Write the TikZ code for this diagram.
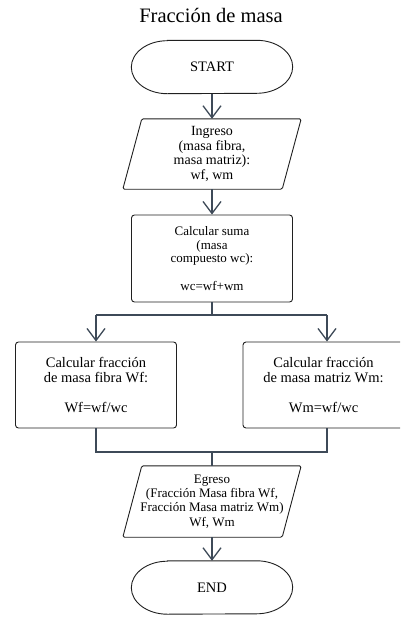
\documentclass[tikz,border=0pt]{standalone}
\usepackage{fontspec}
\setmainfont{Liberation Serif}
\usetikzlibrary{arrows.meta}
\definecolor{wire}{RGB}{62,74,88}
\definecolor{edge}{RGB}{32,32,32}
\tikzset{
  every node/.style={inner sep=0pt, text=black},
  outline/.style={draw=edge, line width=0.9pt},
  procbox/.style={outline, rounded corners=3pt, minimum width=161pt, minimum height=86pt, align=center},
  ioshape/.style={minimum width=159pt, minimum height=70pt, align=center},
  termshape/.style={minimum width=161pt, minimum height=53pt},
  wirestyle/.style={draw=wire, line width=1.3pt},
  flow/.style={wirestyle, -{Straight Barb[length=12pt,width=18pt,line width=1.3pt]}},
}
% draws a terminator outline (flat top and bottom, elliptic ends) around a node
\newcommand{\terminatorline}[1]{%
  \draw[outline] ([xshift=36pt]#1.north west) -- ([xshift=-36pt]#1.north east)
    arc[start angle=90,end angle=-90,x radius=36pt,y radius=26.5pt]
    -- ([xshift=36pt]#1.south west)
    arc[start angle=270,end angle=90,x radius=36pt,y radius=26.5pt] -- cycle;}
% draws a slanted input/output outline around a node
\newcommand{\ioline}[1]{%
  \draw[outline, rounded corners=1.5pt] ([xshift=9.5pt]#1.north west) -- ([xshift=9.5pt]#1.north east)
    -- ([xshift=-9.5pt]#1.south east) -- ([xshift=-9.5pt]#1.south west) -- cycle;}
\begin{document}
\begin{tikzpicture}[x=1pt,y=-1pt]
  \useasboundingbox (0,0) rectangle (400,619);
  \clip (0,0) rectangle (400,619);
  \fill[white] (0,0) rectangle (400,619);

  % title
  \node[anchor=base, font=\fontsize{20.5}{24}\selectfont] (title) at (211,22) {Fracción de masa};

  % start
  \node[termshape, font=\fontsize{14.5}{16}\selectfont] (start) at (212,67) {START};
  \terminatorline{start}

  % input
  \node[ioshape, font=\fontsize{14}{14.5}\selectfont] (ingreso) at (212,154)
    {Ingreso\\(masa fibra,\\masa matriz):\\wf, wm};
  \ioline{ingreso}

  % sum
  \node[procbox, minimum height=87pt, font=\fontsize{13}{13.7}\selectfont] (suma) at (212,258.5)
    {Calcular suma\\(masa\\compuesto wc):\\[13.7pt]wc=wf+wm};

  % fractions
  \node[procbox, font=\fontsize{14.5}{15}\selectfont] (fibra) at (96,385)
    {Calcular fracción\\de masa fibra Wf:\\[15pt]Wf=wf/wc};
  \node[procbox, font=\fontsize{14.5}{15}\selectfont] (matriz) at (323.5,385)
    {Calcular fracción\\de masa matriz Wm:\\[15pt]Wm=wf/wc};

  % output
  \node[ioshape, minimum height=71pt, font=\fontsize{13}{14.3}\selectfont] (egreso) at (212,501.5)
    {Egreso\\(Fracción Masa fibra Wf,\\Fracción Masa matriz Wm)\\Wf, Wm};
  \ioline{egreso}

  % end
  \node[termshape, font=\fontsize{14.5}{16}\selectfont] (end) at (212,587.5) {END};
  \terminatorline{end}

  % branch and join points
  \coordinate (msplit) at (212,315);
  \coordinate (lsplit) at (96,315);
  \coordinate (rsplit) at (327,315);
  \coordinate (ljoin) at (96,452);
  \coordinate (rjoin) at (327,452);
  \coordinate (mjoin) at (212,452);

  % connectors
  \draw[flow] (start.south) -- (ingreso.north);
  \draw[flow] (ingreso.south) -- (suma.north);
  \draw[wirestyle] (suma.south) -- (msplit);
  \draw[wirestyle] (lsplit) -- (rsplit);
  \draw[flow] (lsplit) -- (lsplit |- fibra.north);
  \draw[flow] (rsplit) -- (rsplit |- matriz.north);
  \draw[wirestyle] (fibra.south) -- (ljoin) -- (rjoin) -- (rjoin |- matriz.south);
  \draw[wirestyle] (mjoin) -- (egreso.north);
  \draw[flow] (egreso.south) -- (end.north);
\end{tikzpicture}
\end{document}
